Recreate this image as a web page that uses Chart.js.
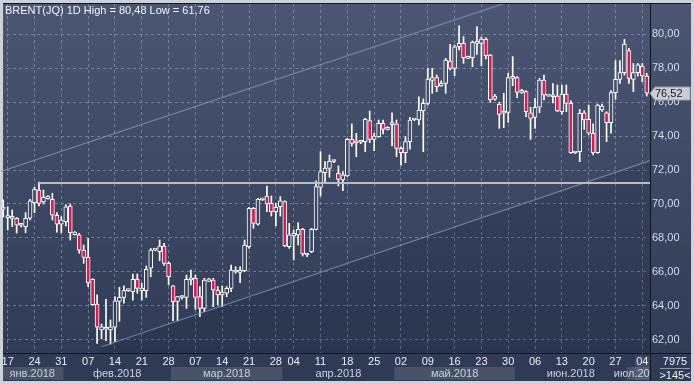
<!DOCTYPE html>
<html><head><meta charset="utf-8">
<script src="https://cdn.jsdelivr.net/npm/chart.js@4.4.1/dist/chart.umd.min.js"></script>
<style>html,body{margin:0;padding:0;background:#cdd1d8;overflow:hidden}canvas{display:block}</style>
</head><body><canvas id="c" width="694" height="384"></canvas>
<script>
// ---------------- DATA ----------------
const categories = [
 '16.01','17.01','18.01','19.01','21.01','22.01','23.01','24.01','25.01','26.01','28.01','29.01','30.01','31.01',
 '01.02','02.02','04.02','05.02','06.02','07.02','08.02','09.02','11.02','12.02','13.02','14.02','15.02','16.02','18.02','19.02','20.02','21.02','22.02','23.02','25.02','26.02','27.02','28.02',
 '01.03','02.03','04.03','05.03','06.03','07.03','08.03','09.03','11.03','12.03','13.03','14.03','15.03','16.03','18.03','19.03','20.03','21.03','22.03','23.03','25.03','26.03','27.03','28.03','29.03',
 '02.04','03.04','04.04','05.04','06.04','08.04','09.04','10.04','11.04','12.04','13.04','15.04','16.04','17.04','18.04','19.04','20.04','22.04','23.04','24.04','25.04','26.04','27.04','29.04','30.04',
 '01.05','02.05','03.05','04.05','06.05','07.05','08.05','09.05','10.05','11.05','13.05','14.05','15.05','16.05','17.05','18.05','20.05','21.05','22.05','23.05','24.05','25.05','27.05','28.05','29.05','30.05','31.05',
 '01.06','03.06','04.06','05.06','06.06','07.06','08.06','10.06','11.06','12.06','13.06','14.06','15.06','17.06','18.06','19.06','20.06','21.06','22.06','24.06','25.06','26.06','27.06','28.06','29.06',
 '01.07','02.07','03.07','04.07','05.07'
];
const open = [
 69.70,69.20,69.15,69.16,68.75,68.66,69.16,70.08,70.82,70.12,
 70.31,70.28,69.34,68.82,68.96,69.88,68.20,68.19,67.29,66.86,
 65.57,64.12,62.59,62.63,62.59,62.75,64.27,64.51,64.90,64.84,
 65.57,64.90,64.90,66.22,67.29,67.20,67.53,66.51,65.18,64.27,
 64.50,64.51,65.53,65.63,64.55,63.86,65.45,65.53,64.94,64.65,
 64.75,65.04,66.00,65.98,66.08,67.49,69.75,68.82,70.24,70.47,
 70.04,69.55,69.84,70.14,67.49,68.12,68.18,68.51,67.06,67.20,
 68.51,70.98,71.84,72.10,72.55,71.80,71.41,71.65,73.80,73.60,
 73.63,73.67,74.90,73.80,73.96,74.75,74.39,74.67,74.71,73.27,
 73.02,73.67,74.94,74.94,75.47,75.92,77.27,77.43,76.94,77.10,
 78.41,77.98,79.25,79.45,78.57,78.61,79.45,79.45,79.70,78.76,
 76.16,75.86,75.35,75.39,77.39,77.43,76.57,76.61,75.37,75.10,
 75.69,77.29,76.35,76.31,76.35,75.43,76.47,75.92,73.00,73.08,
 75.37,74.98,74.16,73.02,75.53,75.37,74.78,76.55,77.33,77.73,
 79.02,77.33,77.73,78.12,77.53
];
const high = [
 70.24,69.84,69.65,69.20,68.84,69.49,70.28,70.98,71.29,70.82,
 70.50,70.63,69.49,69.25,69.96,70.00,68.38,68.27,67.59,67.98,
 65.60,64.65,62.94,64.39,63.18,64.55,65.10,65.18,64.98,65.88,
 65.88,65.33,66.35,67.39,67.35,67.88,67.69,66.61,65.20,64.57,
 64.60,65.82,66.12,65.82,65.14,65.63,65.63,65.63,65.14,65.18,
 65.14,66.41,66.31,66.31,67.88,69.80,69.80,70.33,70.33,71.06,
 70.47,70.04,70.43,70.19,68.86,68.47,68.90,68.57,67.08,68.57,
 71.37,73.08,72.49,72.88,72.57,72.24,71.90,73.86,74.71,74.16,
 73.69,75.04,75.47,74.16,74.94,74.94,74.55,75.37,74.94,73.37,
 73.96,75.10,74.98,76.31,76.18,77.98,77.98,77.59,77.24,78.57,
 79.39,79.35,80.48,79.84,78.70,79.59,80.43,79.82,79.78,78.80,
 76.45,75.98,76.51,77.69,78.67,77.49,76.75,76.67,75.69,76.22,
 77.39,77.59,76.37,77.08,77.00,77.00,77.00,76.08,73.02,75.57,
 75.49,75.82,74.71,75.88,75.88,75.43,76.67,78.43,78.43,79.69,
 79.16,78.27,78.27,78.27,77.69
];
const low = [
 69.24,68.47,68.67,68.29,68.65,68.31,69.06,69.49,69.88,70.00,
 70.28,69.06,68.35,68.31,68.71,67.88,68.17,67.10,66.51,65.14,
 64.05,61.80,62.07,61.96,61.76,61.90,63.10,64.16,64.86,64.35,
 64.75,64.35,64.51,65.72,67.25,66.66,66.39,65.24,63.14,63.14,
 64.40,63.86,65.24,63.80,63.37,63.67,65.43,63.96,64.06,63.96,
 64.55,64.84,65.92,65.37,66.02,67.39,68.57,68.76,70.20,69.55,
 69.29,68.71,69.29,67.49,67.39,66.71,67.59,66.94,66.90,67.14,
 68.47,70.47,71.31,71.57,72.43,71.06,70.78,71.61,73.41,72.78,
 73.55,73.08,73.61,73.14,73.92,74.12,74.35,73.41,72.78,72.29,
 72.43,73.22,74.90,74.65,73.08,75.82,76.51,76.61,76.92,76.51,
 77.88,77.55,79.06,78.27,78.55,78.08,78.80,78.14,78.53,75.98,
 76.10,74.45,74.49,74.80,76.96,76.25,76.50,75.14,73.80,74.45,
 75.37,76.12,76.33,75.94,75.43,75.29,75.43,72.98,72.96,72.49,
 74.39,74.06,72.88,72.98,75.45,73.67,74.16,76.16,77.10,77.59,
 77.10,76.61,77.53,77.20,76.35
];
const close = [
 69.80,69.24,69.25,68.76,68.76,69.16,70.19,70.86,70.04,70.39,
 70.47,69.34,68.82,69.06,69.84,68.31,68.35,67.29,66.86,65.37,
 64.08,62.75,62.78,62.65,62.78,64.31,64.51,64.90,64.92,65.57,
 65.04,65.06,66.16,67.29,67.31,67.53,66.51,65.72,64.25,64.55,
 64.52,65.57,65.65,64.51,63.86,65.53,65.60,64.94,64.65,64.82,
 65.04,66.12,66.12,66.12,67.59,69.75,68.86,70.27,70.30,70.00,
 69.55,69.80,70.19,67.53,68.18,68.27,68.51,67.06,67.00,68.51,
 71.02,71.90,72.12,72.51,72.50,71.45,71.71,73.80,73.57,73.62,
 73.65,74.98,73.80,74.00,74.75,74.39,74.49,74.75,73.27,73.02,
 73.67,74.94,74.96,75.53,75.92,77.35,77.43,76.90,77.10,78.47,
 77.98,79.25,79.45,78.61,78.67,79.51,79.59,79.70,78.73,76.12,
 76.35,75.27,75.47,77.43,77.51,76.57,76.69,75.43,75.04,75.69,
 77.29,76.41,76.36,76.41,75.47,76.47,75.92,73.02,73.01,75.33,
 74.94,74.16,73.02,75.82,75.76,74.78,76.55,77.33,77.73,79.41,
 77.39,77.73,78.18,77.53,76.52
];
const weekTickDates = ['17.01','24.01','31.01','07.02','14.02','21.02','28.02','07.03','14.03','21.03','28.03','04.04','11.04','18.04','25.04','02.05','09.05','16.05','23.05','30.05','06.06','13.06','20.06','27.06','04.07'];
const monthLabels = ['янв.2018','фев.2018','мар.2018','апр.2018','май.2018','июн.2018','июл.2018'];
const yTickValues = [62,64,66,68,70,72,74,76,78,80];
const channelUpper = [[0, 71.96], [144, 84.6]];
const channelLower = [[22, 61.6], [144, 72.48]];
const levelLine = [[8, 71.25], [144, 71.25]];
const symbolName = 'BRENT(JQ) 1D';
const cornerTop = '7975';
const cornerBottom = '>145<';

// ---------------- STYLE ----------------
const FONT = '"Liberation Sans Narrow", "Liberation Sans", Arial, sans-serif';
const canvas = document.getElementById('c');
const cctx = canvas.getContext('2d');
const bgGrad = cctx.createLinearGradient(0, 4, 0, 381);
bgGrad.addColorStop(0, '#4b5772');
bgGrad.addColorStop(1, '#2e3a54');
const RED = '#e3174d';
const GRID = 'rgba(155,170,200,0.55)';
const fmt = v => v.toFixed(2).replace('.', ',');

const bodies = categories.map((_, i) => [Math.min(open[i], close[i]), Math.max(open[i], close[i])]);
const wicks = categories.map((_, i) => [low[i], high[i]]);
const tickIdx = weekTickDates.map(d => categories.indexOf(d));

const bgPlugin = {
  id: 'bg',
  beforeDraw(chart) {
    const c = chart.ctx;
    c.save();
    c.fillStyle = '#cdd1d8';
    c.fillRect(0, 0, 694, 384);
    c.fillStyle = bgGrad;
    c.fillRect(3, 3, 688, 378);
    c.restore();
  }
};

function segEnds(chart, pts, extendLeft) {
  const xs = chart.scales.x, ys = chart.scales.y, a = chart.chartArea;
  const x0 = xs.getPixelForValue(pts[0][0]), y0 = ys.getPixelForValue(pts[0][1]);
  const x1 = xs.getPixelForValue(pts[1][0]), y1 = ys.getPixelForValue(pts[1][1]);
  const k = (y1 - y0) / (x1 - x0);
  const xa = extendLeft ? a.left : x0;
  const xb = a.right + 2;
  return [xa, y0 + k * (xa - x0), xb, y0 + k * (xb - x0)];
}

const linesPlugin = {
  id: 'lines',
  beforeDatasetsDraw(chart) {
    const c = chart.ctx, a = chart.chartArea;
    c.save();
    c.beginPath(); c.rect(a.left, a.top, a.right - a.left + 2, a.bottom - a.top); c.clip();
    const L = segEnds(chart, channelLower, false);
    c.beginPath();
    c.moveTo(L[0], L[1]); c.lineTo(L[2], L[3]); c.lineTo(L[2], a.bottom); c.lineTo(L[0], a.bottom);
    c.closePath();
    c.fillStyle = 'rgba(15,25,45,0.16)';
    c.fill();
    c.restore();
  },
  afterDatasetsDraw(chart) {
    const c = chart.ctx, a = chart.chartArea;
    c.save();
    c.beginPath(); c.rect(a.left, a.top, a.right - a.left + 2, a.bottom - a.top); c.clip();
    c.strokeStyle = 'rgba(135,150,178,0.75)';
    c.lineWidth = 1.2;
    [[channelUpper, true], [channelLower, false]].forEach(([p, ext]) => {
      const s = segEnds(chart, p, ext);
      c.beginPath(); c.moveTo(s[0], s[1]); c.lineTo(s[2], s[3]); c.stroke();
    });
    const h = segEnds(chart, levelLine, false);
    c.strokeStyle = '#b9bdc7';
    c.lineWidth = 2;
    c.beginPath(); c.moveTo(h[0], Math.round(h[1])); c.lineTo(h[2], Math.round(h[3])); c.stroke();
    c.restore();
    // title
    c.save();
    c.font = '11px ' + FONT;
    c.fillStyle = '#f2f4f8';
    c.textBaseline = 'alphabetic';
    const hi = Math.max(...high), lo = Math.min(...low);
    c.fillText(symbolName + ' High = ' + fmt(hi) + ' Low = ' + fmt(lo), 5, 14);
    c.restore();
  }
};

const overlayPlugin = {
  id: 'overlay',
  afterDraw(chart) {
    const c = chart.ctx, a = chart.chartArea, xs = chart.scales.x, ys = chart.scales.y;
    const w = (a.right - a.left) / categories.length;
    c.save();
    // month bands
    c.beginPath(); c.rect(3, 355, 650 - 3, 26); c.clip();
    let starts = [];
    categories.forEach((d, i) => { if (i === 0 || d.slice(3) !== categories[i - 1].slice(3)) starts.push(i); });
    c.font = '11px ' + FONT;
    c.textAlign = 'center'; c.textBaseline = 'middle';
    starts.forEach((s, m) => {
      const e = (m + 1 < starts.length ? starts[m + 1] : categories.length) - 1;
      const x0 = xs.getPixelForValue(s) - w / 2;
      const x1 = Math.min(xs.getPixelForValue(e) + w / 2, 650);
      if (m % 2 === 0) {
        c.fillStyle = 'rgba(255,255,255,0.12)';
        c.fillRect(x0, 367, x1 - x0, 13);
      }
      c.fillStyle = '#c9d1dd';
      c.fillText(monthLabels[m], (x0 + x1) / 2, 373.5);
    });
    c.fillStyle = 'rgba(210,220,235,0.10)';
    c.fillRect(635, 356, 15, 24);
    c.restore();

    c.save();
    // separators
    c.strokeStyle = '#11151d';
    c.lineWidth = 1;
    c.beginPath();
    c.moveTo(3, 3.5); c.lineTo(691, 3.5);
    c.moveTo(3, 353.5); c.lineTo(691, 353.5);
    c.moveTo(650.5, 3); c.lineTo(650.5, 381);
    c.stroke();
    // last price marker
    const last = close[close.length - 1];
    const py = Math.round(ys.getPixelForValue(last)) + 0.5;
    c.beginPath();
    c.moveTo(650, py);
    c.lineTo(655, py - 6.5); c.lineTo(690, py - 6.5); c.lineTo(690, py + 6.5); c.lineTo(655, py + 6.5);
    c.closePath();
    c.fillStyle = '#c9cdd4';
    c.fill();
    c.strokeStyle = '#9aa1ad';
    c.stroke();
    c.fillStyle = '#131a26';
    c.font = '11px ' + FONT;
    c.textAlign = 'left'; c.textBaseline = 'middle';
    c.fillText(fmt(last), 655, py);
    // corner
    c.fillStyle = '#eef2f7';
    c.textAlign = 'center';
    c.fillText(cornerTop, 675, 362);
    c.fillText(cornerBottom, 675, 375.5);
    c.strokeStyle = '#8b95a8';
    c.beginPath(); c.moveTo(660, 368.5); c.lineTo(690, 368.5); c.stroke();
    c.restore();
  }
};

new Chart(canvas, {
  data: {
    labels: categories,
    datasets: [
      {
        type: 'bar', label: 'body', data: bodies, grouped: false, order: 0,
        barThickness: 4, borderWidth: 1, borderColor: '#ffffff', borderSkipped: false, minBarLength: 2,
        backgroundColor: ctx => (close[ctx.dataIndex] < open[ctx.dataIndex] ? RED : bgGrad)
      },
      {
        type: 'bar', label: 'wick', data: wicks, grouped: false, order: 1,
        barThickness: 1, borderWidth: 0, backgroundColor: '#ffffff'
      }
    ]
  },
  options: {
    responsive: false, animation: false, devicePixelRatio: 1, events: [],
    layout: { padding: { left: 1, top: 4, right: 0, bottom: 0 } },
    plugins: { legend: { display: false }, tooltip: { enabled: false }, title: { display: false } },
    scales: {
      x: {
        type: 'category', offset: true,
        afterBuildTicks: ax => { ax.ticks = tickIdx.map(i => ({ value: i })); },
        afterFit: ax => { ax.height = 31; ax.paddingLeft = 0; ax.paddingRight = 0; },
        ticks: {
          autoSkip: false, maxRotation: 0, minRotation: 0, padding: 2,
          color: '#e9edf3', font: { family: FONT, size: 11 },
          callback: v => categories[v].slice(0, 2)
        },
        grid: { offset: false, color: GRID, drawTicks: false, lineWidth: 1, borderDash: [3, 3] },
        border: { display: false, dash: [3, 3] }
      },
      y: {
        position: 'right', min: 61.235, max: 81.765,
        afterBuildTicks: ax => { ax.ticks = yTickValues.map(v => ({ value: v })); },
        afterFit: ax => { ax.width = 45; ax.paddingTop = 0; ax.paddingBottom = 0; },
        ticks: {
          padding: 3, color: '#d3dcea', font: { family: FONT, size: 11 },
          callback: v => fmt(v)
        },
        grid: { color: GRID, drawTicks: false, lineWidth: 1, borderDash: [3, 3] },
        border: { display: false, dash: [3, 3] }
      }
    }
  },
  plugins: [bgPlugin, linesPlugin, overlayPlugin]
});
</script></body></html>
